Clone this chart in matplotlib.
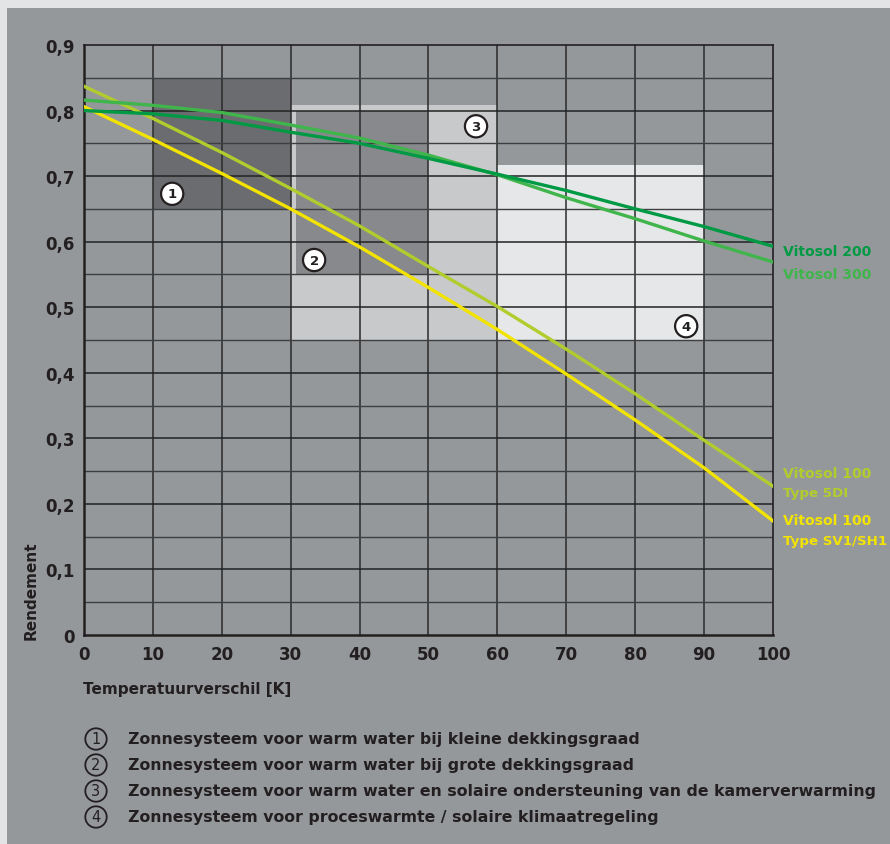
import numpy as np
import matplotlib
matplotlib.use('Agg')
import matplotlib.pyplot as plt
from matplotlib.patches import Rectangle

plt.rcParams['font.family'] = ['DejaVu Sans']
plt.rcParams['font.weight'] = 'bold'

# temperature difference [K]
temp = [0, 10, 20, 30, 40, 50, 60, 70, 80, 90, 100]
vitosol_200 = [0.800, 0.795, 0.785, 0.767, 0.750, 0.727, 0.703, 0.678, 0.650, 0.623, 0.593]
vitosol_300 = [0.816, 0.808, 0.797, 0.778, 0.758, 0.732, 0.702, 0.667, 0.635, 0.601, 0.569]
vitosol_100_5di = [0.837, 0.788, 0.736, 0.681, 0.624, 0.562, 0.501, 0.436, 0.368, 0.297, 0.227]
vitosol_100_sv1 = [0.806, 0.756, 0.704, 0.650, 0.592, 0.530, 0.466, 0.398, 0.328, 0.255, 0.174]

# zones: (x0, x1, y0, y1)
zone_1 = (10, 30, 0.65, 0.85)
zone_2 = (30.7, 50, 0.55, 0.80)
zone_3 = (30, 60, 0.45, 0.808)
zone_4 = (60, 90, 0.45, 0.717)
zone_marks = [('1', 12.8, 0.673), ('2', 33.4, 0.572), ('3', 56.9, 0.776), ('4', 87.4, 0.471)]

legend_texts = [
    'Zonnesysteem voor warm water bij kleine dekkingsgraad',
    'Zonnesysteem voor warm water bij grote dekkingsgraad',
    'Zonnesysteem voor warm water en solaire ondersteuning van de kamerverwarming',
    'Zonnesysteem voor proceswarmte / solaire klimaatregeling',
]

W, H = 890, 845
panel = '#95989b'
dark = '#231f20'

fig = plt.figure(figsize=(W / 100, H / 100), dpi=100, facecolor='#e3e4e6')
fig.patches.append(Rectangle((7 / W, 0), 1, (H - 9) / H, transform=fig.transFigure,
                             facecolor=panel, edgecolor='none', zorder=-10))

ax = fig.add_axes([84 / W, (H - 636) / H, (773 - 84) / W, (636 - 46) / H])
ax.set_facecolor(panel)
ax.set_xlim(0, 100)
ax.set_ylim(0, 0.9)


def zone(z, color, zo):
    x0, x1, y0, y1 = z
    ax.add_patch(Rectangle((x0, y0), x1 - x0, y1 - y0, facecolor=color,
                           edgecolor='none', zorder=zo))


zone(zone_1, '#6b6c6f', 1)
zone(zone_3, '#c8c9cb', 1)
zone(zone_2, '#87898c', 1.5)
zone(zone_4, '#e6e7e8', 1)

# grid
for x in np.arange(10, 100, 10):
    ax.axvline(x, color='#2a2a2a', lw=1.1, zorder=2)
for y in np.arange(0.1, 0.9, 0.1):
    ax.axhline(y, color='#222222', lw=1.1, zorder=2)
for y in np.arange(0.05, 0.9, 0.1):
    ax.axhline(y, color='#3d3e40', lw=1.0, zorder=2)

ax.plot(temp, vitosol_100_5di, color='#b2cc2d', lw=2.4, zorder=3)
ax.plot(temp, vitosol_100_sv1, color='#f2e400', lw=2.4, zorder=3)
ax.plot(temp, vitosol_300, color='#3fb54b', lw=2.4, zorder=3)
ax.plot(temp, vitosol_200, color='#009a44', lw=2.4, zorder=3)

for label, x, y in zone_marks:
    ax.text(x, y, label, ha='center', va='center', fontsize=9.5, color=dark, zorder=5,
            bbox=dict(boxstyle='circle,pad=0.35', fc='white', ec=dark, lw=1.6))

for s in ax.spines.values():
    s.set_color(dark)
    s.set_linewidth(1.2)
ax.spines['left'].set_linewidth(1.8)
ax.spines['bottom'].set_linewidth(1.8)

ax.set_xticks(range(0, 101, 10))
ax.set_yticks(np.arange(0, 0.91, 0.1))
ax.set_yticklabels(['0' if i == 0 else '0,%d' % i for i in range(10)])
ax.tick_params(length=0, labelsize=12, labelcolor=dark, pad=7)
for t in ax.get_xticklabels() + ax.get_yticklabels():
    t.set_fontweight('bold')

fig.text(83 / W, 1 - 690 / H, 'Temperatuurverschil [K]', fontsize=11, color=dark,
         ha='left', va='center')
fig.text(31 / W, 1 - 640 / H, 'Rendement', fontsize=11, color=dark, rotation=90,
         ha='center', va='bottom')

labels = [('Vitosol 200', 252, '#009a44'), ('Vitosol 300', 275, '#3fb54b'),
          ('Vitosol 100', 474, '#b2cc2d'), ('Type 5DI', 494, '#b2cc2d'),
          ('Vitosol 100', 521, '#f2e400'), ('Type SV1/SH1', 541, '#f2e400')]
for txt, y, c in labels:
    size = 10.1 if txt.startswith('Vitosol') else 9.6
    fig.text(783 / W, 1 - y / H, txt, fontsize=size, color=c, ha='left', va='center')

for i, txt in enumerate(legend_texts):
    y = 740 + i * 26
    fig.text(96 / W, 1 - y / H, str(i + 1), fontsize=10.5, color=dark, ha='center',
             va='center', fontweight='normal',
             bbox=dict(boxstyle='circle,pad=0.22', fc='none', ec=dark, lw=1.3))
    fig.text(128 / W, 1 - y / H, txt, fontsize=11.3, color=dark, ha='left', va='center')

fig.savefig('out.png', dpi=100, facecolor=fig.get_facecolor())
